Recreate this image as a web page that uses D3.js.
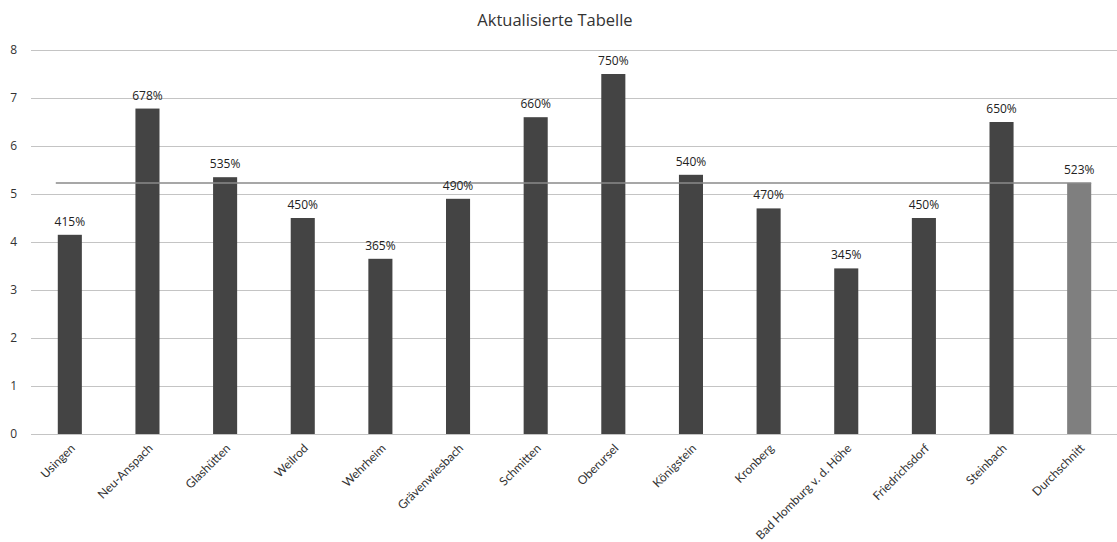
<!DOCTYPE html>
<html>
<head>
<meta charset="utf-8">
<script src="https://cdn.jsdelivr.net/npm/d3@7"></script>
<style>
  body { margin: 0; background: #fff; }
  svg { font-family: "Open Sans", sans-serif; }
</style>
</head>
<body>
<svg id="chart" width="1117" height="542"></svg>
<script>
const orte = ['Usingen', 'Neu-Anspach', 'Glashütten', 'Weilrod', 'Wehrheim', 'Grävenwiesbach',
  'Schmitten', 'Oberursel', 'Königstein', 'Kronberg', 'Bad Homburg v. d. Höhe',
  'Friedrichsdorf', 'Steinbach', 'Durchschnitt'];
const werte = [4.15, 6.78, 5.35, 4.50, 3.65, 4.90, 6.60, 7.50, 5.40, 4.70, 3.45, 4.50, 6.50, 5.23];
const yTicks = [0, 1, 2, 3, 4, 5, 6, 7, 8];
const schnitt = 5.23;

const svg = d3.select('#chart');

/* scales */
const x = d3.scaleBand().domain(orte).range([31, 1118]).paddingInner(0.69).paddingOuter(0.345);
const y = d3.scaleLinear().domain([0, 8]).range([434, 50]);

/* title */
svg.append('text')
  .attr('x', 555).attr('y', 26)
  .attr('text-anchor', 'middle')
  .attr('font-size', 16.5).attr('fill', '#333')
  .text('Aktualisierte Tabelle');

/* gridlines + y labels */
const yAxis = svg.append('g')
  .attr('transform', 'translate(31,0)')
  .call(d3.axisLeft(y).tickValues(yTicks).tickSize(-1087).tickFormat(d3.format('d')).tickPadding(14));
yAxis.select('.domain').remove();
yAxis.selectAll('line').attr('stroke', '#c4c4c4').attr('stroke-width', 1.2);
yAxis.selectAll('text').attr('font-size', 12).attr('fill', '#333').attr('font-family', '"Open Sans", sans-serif');

/* bars */
svg.append('g').selectAll('rect')
  .data(werte)
  .enter().append('rect')
  .attr('x', (d, i) => x(orte[i]))
  .attr('y', (d) => y(d))
  .attr('width', x.bandwidth())
  .attr('height', (d) => y(0) - y(d))
  .attr('fill', (d, i) => orte[i] === 'Durchschnitt' ? '#7f7f7f' : '#444444');

/* average line */
svg.append('line')
  .attr('x1', x(orte[0]) - 2)
  .attr('x2', x(orte[orte.length - 1]) + x.bandwidth())
  .attr('y1', y(schnitt)).attr('y2', y(schnitt))
  .attr('stroke', '#8a8a8a').attr('stroke-width', 1.6);

/* value labels */
svg.append('g').selectAll('text')
  .data(werte)
  .enter().append('text')
  .attr('x', (d, i) => x(orte[i]) + x.bandwidth() / 2)
  .attr('y', (d) => y(d) - 9)
  .attr('text-anchor', 'middle')
  .attr('font-size', 12).attr('fill', '#222')
  .text((d) => Math.round(d * 100) + '%');

/* x labels */
const xAxis = svg.append('g')
  .attr('transform', 'translate(0,434)')
  .call(d3.axisBottom(x).tickSize(0).tickPadding(0));
xAxis.select('.domain').remove();
xAxis.selectAll('text')
  .attr('font-size', 12).attr('fill', '#333').attr('font-family', 'Lato, sans-serif')
  .attr('text-anchor', 'end')
  .attr('dy', null).attr('y', 0)
  .attr('transform', 'translate(6,15) rotate(-45)');
</script>
</body>
</html>
